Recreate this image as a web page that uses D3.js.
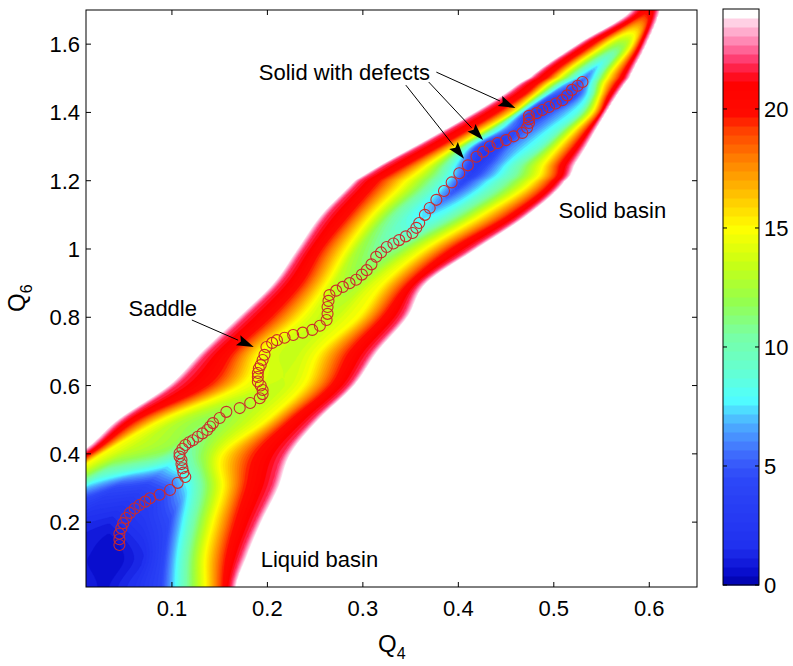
<!DOCTYPE html>
<html><head><meta charset="utf-8">
<script src="https://cdn.jsdelivr.net/npm/d3@7"></script>
<style>
body{margin:0;background:#fff;}
svg{display:block;}
text{font-family:"Liberation Sans",Arial,Helvetica,sans-serif;fill:#000;}
</style>
</head><body>
<svg id="chart" width="793" height="666"></svg>
<script>
// ---------------- DATA ----------------
// Free-energy profile rows: for each Q6 row, knots across Q4 (x positions) and the free-energy values there
const profileY = [0.01,0.1,0.2,0.3,0.4,0.5,0.6,0.7,0.8,0.9,1.0,1.1,1.2,1.25,1.3,1.35,1.4,1.45,1.5,1.6,1.7];
const profileX = [
  [-0.2,-0.18,-0.16,-0.12,-0.05,0.01,0.03,0.06,0.087,0.135,0.152,0.162,0.168],
  [-0.2,-0.18,-0.16,-0.12,-0.05,0.01,0.04,0.07,0.09,0.135,0.155,0.172,0.18],
  [-0.2,-0.18,-0.16,-0.12,-0.05,0.01,0.035,0.07,0.097,0.143,0.164,0.187,0.195],
  [-0.08,-0.06,-0.05,-0.03,0.01,0.04,0.07,0.095,0.118,0.153,0.175,0.204,0.213],
  [0.0,0.008,0.016,0.027,0.05,0.09,0.11,0.125,0.14,0.153,0.185,0.217,0.226],
  [0.042,0.05,0.066,0.09,0.11,0.13,0.145,0.16,0.18,0.2,0.222,0.247,0.255],
  [0.095,0.104,0.14,0.172,0.19,0.2,0.21,0.218,0.225,0.238,0.264,0.285,0.292],
  [0.13,0.139,0.167,0.193,0.205,0.215,0.225,0.235,0.245,0.255,0.284,0.309,0.317],
  [0.168,0.177,0.206,0.235,0.245,0.255,0.263,0.272,0.28,0.295,0.318,0.34,0.348],
  [0.205,0.213,0.238,0.262,0.27,0.28,0.29,0.3,0.31,0.322,0.346,0.36,0.368],
  [0.23,0.238,0.259,0.283,0.295,0.31,0.325,0.34,0.35,0.365,0.39,0.412,0.42],
  [0.255,0.263,0.288,0.31,0.33,0.35,0.367,0.385,0.405,0.425,0.452,0.467,0.474],
  [0.29,0.297,0.319,0.345,0.37,0.39,0.405,0.43,0.455,0.478,0.497,0.507,0.513],
  [0.32,0.327,0.35,0.37,0.39,0.405,0.42,0.44,0.465,0.49,0.506,0.517,0.524],
  [0.353,0.36,0.382,0.398,0.41,0.42,0.435,0.455,0.485,0.505,0.52,0.529,0.535],
  [0.385,0.392,0.413,0.428,0.44,0.45,0.462,0.48,0.505,0.522,0.534,0.54,0.545],
  [0.416,0.423,0.443,0.458,0.465,0.472,0.482,0.5,0.525,0.54,0.548,0.551,0.556],
  [0.445,0.452,0.47,0.48,0.49,0.497,0.51,0.525,0.537,0.548,0.556,0.562,0.567],
  [0.473,0.479,0.494,0.505,0.515,0.523,0.533,0.542,0.548,0.556,0.568,0.575,0.58],
  [0.524,0.53,0.543,0.555,0.56,0.565,0.57,0.575,0.578,0.582,0.589,0.593,0.598],
  [0.58,0.587,0.592,0.594,0.596,0.597,0.598,0.599,0.6,0.602,0.604,0.607,0.612]
];
const profileV = [
  [24.5,22,19.5,15,3,1.0,0.6,1.8,4,15,19.5,22,24.5],
  [24.5,22,19.5,15,3,0.8,0.4,1.5,4,15,19.5,22,24.5],
  [24.5,22,19.5,15,4,1.6,1.2,2.5,4.5,15,19.5,22,24.5],
  [24.5,22,19.5,15,7,4.5,4,5,8,15,19.5,22,24.5],
  [24.5,22,19.5,15,13,11.5,9.5,11,13,15,19.5,22,24.5],
  [24.5,22,19.5,15,13,12,11.8,12.3,13.5,15,19.5,22,24.5],
  [24.5,22,19.5,15,14,13.6,13.5,13.6,14,15,19.5,22,24.5],
  [24.5,22,19.5,15,14,13.6,13.4,13.6,14.2,15,19.5,22,24.5],
  [24.5,22,19.5,15,14,13.5,13.3,13.6,14.2,15,19.5,22,24.5],
  [24.5,22,19.5,15,13.5,12.7,12.3,12.8,14,15,19.5,22,24.5],
  [24.5,22,19.5,15,12.5,11,10.5,11.5,13,15,19.5,22,24.5],
  [24.5,22,19.5,15,11,8.5,7.2,8.5,11.5,15,19.5,22,24.5],
  [24.5,22,19.5,15,11,7.5,4,7.5,11,15,19.5,22,24.5],
  [24.5,22,19.5,15,10,6,2.8,6,10,15,19.5,22,24.5],
  [24.5,22,19.5,15,9,5,2.5,6,9,15,19.5,22,24.5],
  [24.5,22,19.5,15,9,6,4.5,6,9,15,19.5,22,24.5],
  [24.5,22,19.5,15,8.5,5,3.2,5.5,8.5,15,19.5,22,24.5],
  [24.5,22,19.5,15,9,5.5,4,5,8.5,15,19.5,22,24.5],
  [24.5,22,19.5,15,11,8,5.5,8,11,15,19.5,22,24.5],
  [24.5,22,19.5,15,13.5,12.5,12.2,12.5,13.5,15,19.5,22,24.5],
  [24.5,22,21,20.7,20.5,20.4,20.3,20.4,20.5,20.7,21,22,24.5]
];
// Minimum free-energy path (circles)
const pathQ4 = [0.045,0.045,0.045,0.047,0.049,0.052,0.056,0.061,0.066,0.072,0.077,0.087,0.098,0.106,0.114,0.112,0.111,0.110,0.110,0.108,0.108,0.111,0.114,0.118,0.122,0.127,0.132,0.137,0.140,0.143,0.150,0.157,0.171,0.182,0.192,0.195,0.195,0.193,0.190,0.190,0.190,0.191,0.193,0.195,0.197,0.199,0.205,0.210,0.218,0.227,0.237,0.247,0.255,0.262,0.263,0.263,0.264,0.265,0.272,0.279,0.286,0.293,0.299,0.304,0.309,0.314,0.319,0.325,0.332,0.338,0.345,0.352,0.356,0.359,0.365,0.370,0.377,0.385,0.393,0.401,0.410,0.419,0.426,0.433,0.441,0.450,0.458,0.467,0.472,0.474,0.474,0.474,0.482,0.488,0.495,0.502,0.509,0.514,0.519,0.525,0.530];
const pathQ6 = [0.133,0.150,0.166,0.182,0.197,0.212,0.227,0.240,0.250,0.260,0.270,0.280,0.294,0.315,0.332,0.345,0.358,0.370,0.382,0.392,0.402,0.415,0.426,0.434,0.440,0.450,0.460,0.470,0.480,0.490,0.505,0.523,0.534,0.549,0.563,0.575,0.587,0.600,0.612,0.625,0.637,0.650,0.660,0.675,0.690,0.713,0.725,0.733,0.740,0.748,0.755,0.763,0.775,0.792,0.810,0.830,0.848,0.865,0.878,0.889,0.900,0.910,0.925,0.938,0.955,0.977,0.990,1.006,1.016,1.026,1.037,1.047,1.062,1.076,1.100,1.120,1.144,1.170,1.195,1.222,1.245,1.270,1.285,1.300,1.310,1.319,1.330,1.340,1.355,1.369,1.380,1.390,1.398,1.407,1.416,1.426,1.436,1.450,1.466,1.478,1.489];
const xTicks = [0.1,0.2,0.3,0.4,0.5,0.6];
const xTickLabels = ["0.1","0.2","0.3","0.4","0.5","0.6"];
const yTicks = [0.2,0.4,0.6,0.8,1.0,1.2,1.4,1.6];
const yTickLabels = ["0.2","0.4","0.6","0.8","1","1.2","1.4","1.6"];
const cbTicks = [0,5,10,15,20];
const cbTickLabels = ["0","5","10","15","20"];
const cbMax = 24.2, nLevels = 64;
// annotations: label, text anchor point, arrow tails and tips (data units)
const annoLabels = ["Solid with defects","Saddle","Solid basin","Liquid basin"];
const annoQ4 = [0.191,0.0545,0.505,0.193];
const annoQ6 = [1.495,0.804,1.091,0.0686];
const arrowFromQ4 = [0.377,0.369,0.345,0.1209];
const arrowFromQ6 = [1.518,1.489,1.480,0.792];
const arrowToQ4 = [0.4598,0.426,0.406,0.1857];
const arrowToQ6 = [1.413,1.319,1.264,0.713];
// colour map anchor stops
const cmapStops = [0,0.6,1.6,4.5,5.2,6.0,6.8,7.8,9,10.5,12,13.5,15,16.5,18,19.2,19.8,21.1,21.6,22.1,22.6,23.1,23.6,24.0];
const cmapColors = ["#0000a8","#0a0fd0","#2030ef","#2d48f8","#3a5efc","#4684ff","#4cb0ff","#50ffff","#64ffd2","#78ffa5","#96ff4a","#c8ff14","#ffff00","#ffbe00","#ff7a00","#ff3c00","#ff0a00","#ff0000","#ff1838","#ff3c70","#ff6ea0","#ff9ec4","#ffcce2","#ffffff"];

// ---------------- LAYOUT ----------------
const W = 793, H = 666;
const plot = {left:86, right:697, top:10, bottom:587};
const cb = {left:723, right:759, top:9, bottom:585};
const svg = d3.select("#chart");
const x = d3.scaleLinear().domain([0.01,0.65]).range([plot.left, plot.right]);
const y = d3.scaleLinear().domain([0.01,1.70]).range([plot.bottom, plot.top]);
const cmapScale = d3.scaleLinear().domain(cmapStops).range(cmapColors).interpolate(d3.interpolateRgb).clamp(true);
const step = cbMax / nLevels;
const levelColors = d3.range(nLevels).map(k => cmapScale((k + 0.5) * step));

// ---------------- FIELD ----------------
function cr(p0, p1, p2, p3, t) {
  const t2 = t * t, t3 = t2 * t;
  return 0.5 * (2 * p1 + (-p0 + p2) * t + (2 * p0 - 5 * p1 + 4 * p2 - p3) * t2 + (-p0 + 3 * p1 - 3 * p2 + p3) * t3);
}
const nR = profileY.length;
const gx0 = 0.01, gx1 = 0.65, gy0 = 0.01, gy1 = 1.70, gdx = 0.0025, gdy = 0.004;
const nx = Math.round((gx1 - gx0) / gdx) + 1, ny = Math.round((gy1 - gy0) / gdy) + 1;
const neg = new Float64Array(nx * ny);
for (let j = 0; j < ny; j++) {
  const yy = gy0 + j * gdy;
  let r = d3.bisectRight(profileY, yy) - 1;
  r = Math.max(0, Math.min(nR - 2, r));
  const t = Math.max(0, Math.min(1, (yy - profileY[r]) / (profileY[r + 1] - profileY[r])));
  const r0 = Math.max(0, r - 1), r3 = Math.min(nR - 1, r + 2);
  const kx = profileX[r].map((v, i) => cr(profileX[r0][i], v, profileX[r + 1][i], profileX[r3][i], t));
  const kv = profileV[r].map((v, i) => Math.max(0, cr(profileV[r0][i], v, profileV[r + 1][i], profileV[r3][i], t)));
  for (let i = 1; i < kx.length; i++) if (kx[i] < kx[i - 1] + 1e-5) kx[i] = kx[i - 1] + 1e-5;
  const f = d3.scaleLinear().domain(kx).range(kv).clamp(true);
  for (let i = 0; i < nx; i++) {
    const xx = gx0 + i * gdx;
    const v = (xx < kx[0] || xx > kx[kx.length - 1]) ? 30 : f(xx);
    neg[j * nx + i] = -v;
  }
}

svg.append("rect").attr("width", W).attr("height", H).attr("fill", "#fff");
svg.append("defs").append("clipPath").attr("id", "clipPlot")
  .append("rect").attr("x", plot.left).attr("y", plot.top)
  .attr("width", plot.right - plot.left).attr("height", plot.bottom - plot.top);

const proj = d3.geoTransform({
  point: function(cx, cy) {
    this.stream.point(x(gx0 + (cx - 0.5) * gdx), y(gy0 + (cy - 0.5) * gdy));
  }
});
const geoPath = d3.geoPath(proj);
const gen = d3.contours().size([nx, ny]).smooth(true);
const gContours = svg.append("g").attr("clip-path", "url(#clipPlot)");
for (let k = nLevels; k >= 1; k--) {
  const c = gen.contour(neg, -(k * step));
  gContours.append("path").attr("d", geoPath(c))
    .attr("fill", levelColors[k - 1]).attr("stroke", levelColors[k - 1]).attr("stroke-width", 0.4);
}

// path circles
const pathPts = pathQ4.map((q, i) => [q, pathQ6[i]]);
svg.append("g").attr("clip-path", "url(#clipPlot)").selectAll("circle").data(pathPts).join("circle")
  .attr("cx", d => x(d[0])).attr("cy", d => y(d[1])).attr("r", 5.5)
  .attr("fill", "none").attr("stroke", "#cc2b2b").attr("stroke-width", 1.1);

// ---------------- AXES ----------------
const tickLen = 5;
const gAx = svg.append("g").attr("stroke", "#000").attr("stroke-width", 1);
gAx.append("rect").attr("x", plot.left).attr("y", plot.top)
  .attr("width", plot.right - plot.left).attr("height", plot.bottom - plot.top).attr("fill", "none");
xTicks.forEach(v => {
  gAx.append("line").attr("x1", x(v)).attr("x2", x(v)).attr("y1", plot.bottom).attr("y2", plot.bottom - tickLen);
  gAx.append("line").attr("x1", x(v)).attr("x2", x(v)).attr("y1", plot.top).attr("y2", plot.top + tickLen);
});
yTicks.forEach(v => {
  gAx.append("line").attr("y1", y(v)).attr("y2", y(v)).attr("x1", plot.left).attr("x2", plot.left + tickLen);
  gAx.append("line").attr("y1", y(v)).attr("y2", y(v)).attr("x1", plot.right).attr("x2", plot.right - tickLen);
});
svg.append("g").selectAll("text").data(xTicks).join("text")
  .attr("x", d => x(d)).attr("y", 616).attr("text-anchor", "middle").attr("font-size", 22)
  .text((d, i) => xTickLabels[i]);
svg.append("g").selectAll("text").data(yTicks).join("text")
  .attr("x", 80).attr("y", d => y(d) + 8).attr("text-anchor", "end").attr("font-size", 22)
  .text((d, i) => yTickLabels[i]);

// axis titles
const xl = svg.append("text").attr("x", 378).attr("y", 652).attr("font-size", 24);
xl.append("tspan").text("Q");
xl.append("tspan").attr("font-size", 16).attr("dy", 7).text("4");
const yl = svg.append("text").attr("transform", "translate(25,312) rotate(-90)").attr("font-size", 24);
yl.append("tspan").text("Q");
yl.append("tspan").attr("font-size", 16).attr("dy", 7).text("6");

// ---------------- ANNOTATIONS ----------------
annoLabels.forEach((s, i) => {
  svg.append("text").attr("x", x(annoQ4[i])).attr("y", y(annoQ6[i])).attr("font-size", 22).text(s);
});
arrowToQ4.forEach((q, i) => {
  const x1 = x(arrowFromQ4[i]), y1 = y(arrowFromQ6[i]), x2 = x(q), y2 = y(arrowToQ6[i]);
  const a = Math.atan2(y2 - y1, x2 - x1), L = 17, hw = 5.5;
  const bx = x2 - L * Math.cos(a), by = y2 - L * Math.sin(a);
  svg.append("line").attr("x1", x1).attr("y1", y1).attr("x2", bx).attr("y2", by)
    .attr("stroke", "#000").attr("stroke-width", 1);
  const p1 = [bx + hw * Math.sin(a), by - hw * Math.cos(a)], p2 = [bx - hw * Math.sin(a), by + hw * Math.cos(a)];
  svg.append("path").attr("d", `M${x2},${y2}L${p1[0]},${p1[1]}L${bx + 3 * Math.cos(a)},${by + 3 * Math.sin(a)}L${p2[0]},${p2[1]}Z`)
    .attr("fill", "#000");
});

// ---------------- COLORBAR ----------------
const cy = d3.scaleLinear().domain([0, cbMax]).range([cb.bottom, cb.top]);
svg.append("g").selectAll("rect").data(d3.range(nLevels)).join("rect")
  .attr("x", cb.left).attr("width", cb.right - cb.left)
  .attr("y", k => cy((k + 1) * step)).attr("height", k => cy(k * step) - cy((k + 1) * step) + 0.5)
  .attr("fill", k => levelColors[k]);
const gCb = svg.append("g").attr("stroke", "#000").attr("stroke-width", 1);
gCb.append("rect").attr("x", cb.left).attr("y", cb.top).attr("width", cb.right - cb.left)
  .attr("height", cb.bottom - cb.top).attr("fill", "none");
cbTicks.forEach(v => {
  gCb.append("line").attr("x1", cb.left).attr("x2", cb.left + 4).attr("y1", cy(v)).attr("y2", cy(v));
  gCb.append("line").attr("x1", cb.right).attr("x2", cb.right - 4).attr("y1", cy(v)).attr("y2", cy(v));
});
svg.append("g").selectAll("text").data(cbTicks).join("text")
  .attr("x", 764).attr("y", d => cy(d) + 8).attr("font-size", 22).text((d, i) => cbTickLabels[i]);
</script>
</body></html>
